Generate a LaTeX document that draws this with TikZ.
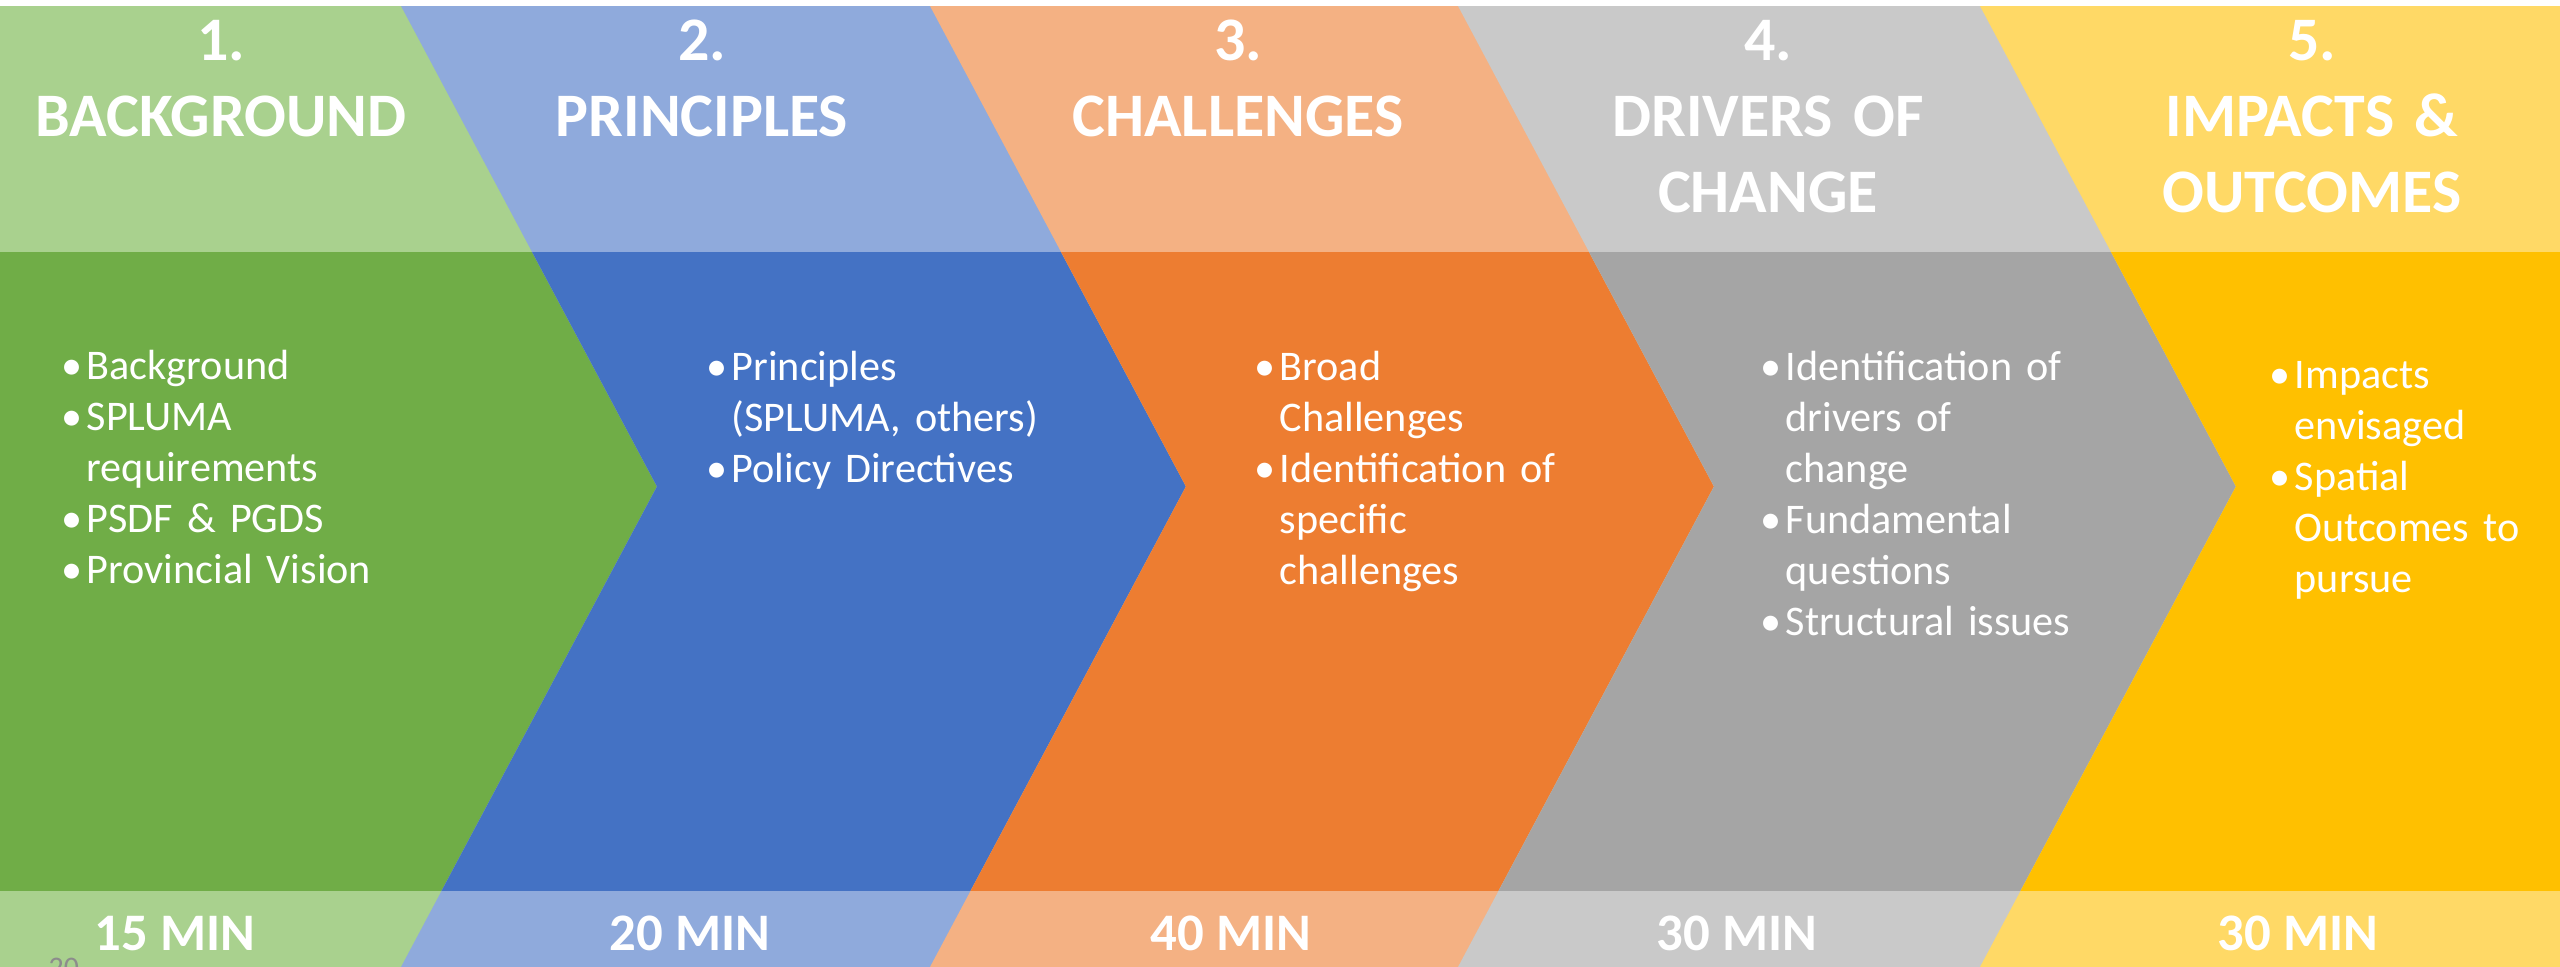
\documentclass[tikz,border=0pt]{standalone}
\usepackage{fontspec}
\setmainfont{Carlito}
\usepackage{tikz}
\usetikzlibrary{calc}
\usepackage{xcolor}

\definecolor{dgreen}{HTML}{70AD47}
\definecolor{lgreen}{HTML}{A9D18E}
\definecolor{dblue}{HTML}{4472C4}
\definecolor{lblue}{HTML}{8FAADC}
\definecolor{dorange}{HTML}{ED7D31}
\definecolor{lorange}{HTML}{F4B183}
\definecolor{dgray}{HTML}{A5A5A5}
\definecolor{lgray}{HTML}{C9C9C9}
\definecolor{dyellow}{HTML}{FFC000}
\definecolor{lyellow}{HTML}{FFD966}
\definecolor{pgray}{HTML}{8C8C8C}

% bullet hangs to the left of the text column
\newcommand{\bitem}[1]{\noindent\llap{\makebox[0.29cm][c]{\textbullet}}#1\par}

\tikzset{
	titletext/.style={text=white, inner sep=0, anchor=base, text width=5cm, align=center,
		font=\bfseries\fontsize{17.6}{21.6}\selectfont},
	listtext/.style={text=white, inner sep=0, anchor=base west, text width=3.6cm, align=left,
		font=\fontsize{12}{14.45}\selectfont},
	timetext/.style={text=white, inner sep=0, anchor=base,
		font=\bfseries\fontsize{15}{18}\selectfont}
}

\begin{document}
\begin{tikzpicture}[x=0.01cm,y=-0.01cm]
		\fill[white] (0,0) rectangle (2560,967);
		\useasboundingbox (0,0) rectangle (2560,967);
		% each chevron runs on to the right edge, the next one covers it
		\foreach \xl/\dl/\cdark/\clight in {0/0/dgreen/lgreen,401/256/dblue/lblue,930/256/dorange/lorange,1458/256/dgray/lgray,1980/256/dyellow/lyellow}
		{
		\begin{scope}
		\clip (\xl,6) -- (\xl+\dl,486.5) -- (\xl,967) -- (2560,967) -- (2560,6) -- cycle;
		\fill[\clight] (0,6) rectangle (2560,967);
		\fill[\cdark] (0,252) rectangle (2560,891);
		\end{scope}
		}
		% headings
		\foreach \n/\x/\t in {1/221/{1.\\BACKGROUND},2/702/{2.\\PRINCIPLES},3/1238/{3.\\CHALLENGES},4/1768/{4.\\DRIVERS OF\\CHANGE},5/2312/{5.\\IMPACTS \&\\OUTCOMES}}
		\node[titletext] (title\n) at (\x,61) {\t};
		% bullet lists
		\node[listtext] (list1) at (86,380) {\bitem{Background}\bitem{SPLUMA\\requirements}\bitem{PSDF \& PGDS}\bitem{Provincial Vision}};
		\node[listtext] (list2) at (731,381) {\bitem{Principles\\(SPLUMA, others)}\bitem{Policy Directives}};
		\node[listtext] (list3) at (1279,381) {\bitem{Broad\\Challenges}\bitem{Identification of\\specific\\challenges}};
		\node[listtext] (list4) at (1785,381) {\bitem{Identification of\\drivers of\\change}\bitem{Fundamental\\questions}\bitem{Structural issues}};
		\node[listtext] (list5) at (2294,389) {\bitem{Impacts\\envisaged}\bitem{Spatial\\Outcomes to\\pursue}};
		% durations
		\foreach \n/\x/\t in {1/175/15,2/690/20,3/1231/40,4/1737/30,5/2298/30}
		\node[timetext] (time\n) at (\x,950) {\t\ MIN};
		%		\node at (1280,20) {};
		\node[anchor=north west, inner sep=0, text=pgray, font=\fontsize{8.5}{10}\selectfont] (pagenum) at (48,957) {20};
	\end{tikzpicture}
\end{document}
